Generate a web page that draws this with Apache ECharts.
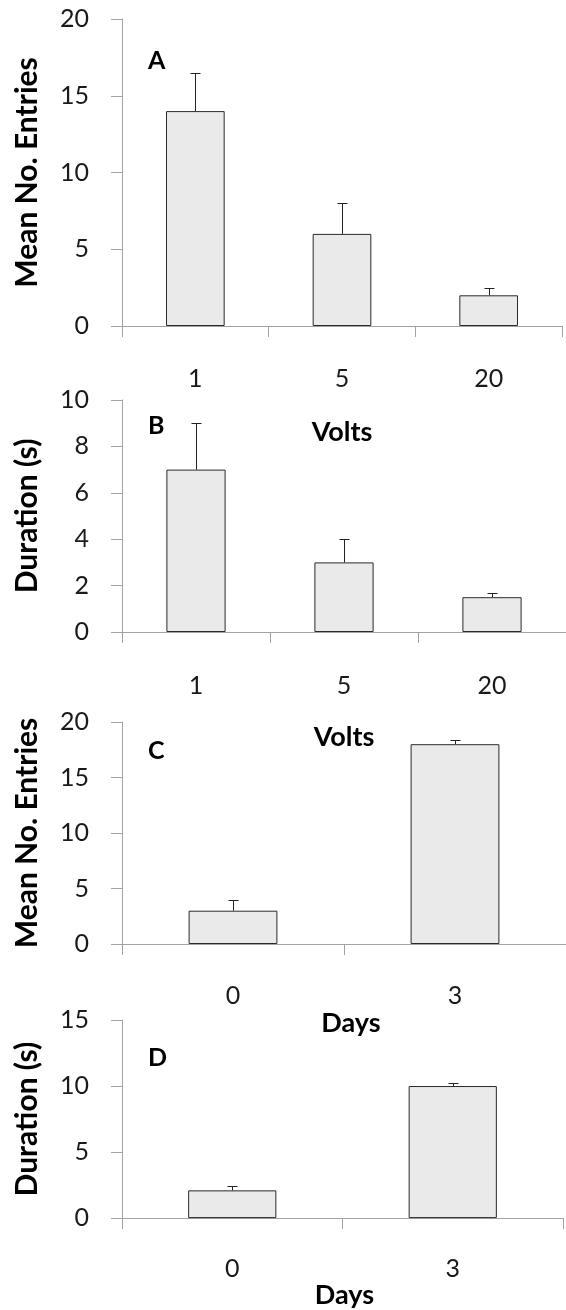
<!DOCTYPE html>
<html>
<head>
<meta charset="utf-8">
<script src="https://cdn.jsdelivr.net/npm/echarts@6/dist/echarts.min.js"></script>
<style>
html,body{margin:0;padding:0;background:#fff;}
#main{width:566px;height:1310px;}
</style>
</head>
<body>
<div id="main"></div>
<script>
// ---- data ----
const voltCategories = ['1', '5', '20'];
const dayCategories = ['0', '3'];
const entriesByVolts = [14, 6, 2];
const entriesByVoltsErr = [2.5, 2, 0.5];
const durationByVolts = [7, 3, 1.5];
const durationByVoltsErr = [2, 1, 0.2];
const entriesByDays = [3, 18];
const entriesByDaysErr = [1, 0.4];
const durationByDays = [2.1, 10];
const durationByDaysErr = [0.3, 0.2];
const panelLetters = ['A', 'B', 'C', 'D'];
const yNames = ['Mean No. Entries', 'Duration (s)', 'Mean No. Entries', 'Duration (s)'];
const xNames = ['Volts', 'Volts', 'Days', 'Days'];
const yMax = [20, 10, 20, 15];
const yInterval = [5, 2, 5, 5];

// ---- styling ----
const FONT = 'Lato, "Open Sans", sans-serif';
const AXIS_COLOR = '#a3a3a3';
const BAR_FILL = '#eaeaea';
const BAR_EDGE = '#2a2a2a';

const panels = [
  {cats: voltCategories, vals: entriesByVolts, errs: entriesByVoltsErr},
  {cats: voltCategories, vals: durationByVolts, errs: durationByVoltsErr},
  {cats: dayCategories, vals: entriesByDays, errs: entriesByDaysErr},
  {cats: dayCategories, vals: durationByDays, errs: durationByDaysErr}
];

const grids = [
  {left: 122, top: 19, width: 440, height: 307},
  {left: 122, top: 400, width: 452, height: 232},
  {left: 122, top: 722, width: 452, height: 222},
  {left: 122, top: 1020, width: 441, height: 206}
];
const xLabelMargin = [40, 41, 39, 38];
const xNameGap = [93, 92, 66, 53];
const xNamePad = [[0,0,0,0],[0,0,0,0],[0,0,0,14],[0,0,0,4]];
const letterY = [62, 427, 752, 1059];

function errItem(params, api) {
  const x = api.value(0), v = api.value(1), e = api.value(2);
  const p0 = api.coord([x, v]);
  const p1 = api.coord([x, v + e]);
  const cx = Math.round(p0[0]) + 0.5;
  const ty = Math.round(p1[1]) + 0.5;
  const st = {stroke: '#222', lineWidth: 1};
  return {
    type: 'group',
    children: [
      {type: 'line', shape: {x1: cx, y1: p0[1], x2: cx, y2: ty}, style: st},
      {type: 'line', shape: {x1: cx - 5, y1: ty, x2: cx + 5, y2: ty}, style: st}
    ]
  };
}

const xAxis = [], yAxis = [], series = [], graphic = [];
panels.forEach((p, i) => {
  xAxis.push({
    type: 'category', gridIndex: i, data: p.cats,
    boundaryGap: true,
    axisLine: {lineStyle: {color: AXIS_COLOR, width: 1}},
    axisTick: {show: true, length: 11, alignWithLabel: false, lineStyle: {color: AXIS_COLOR}},
    axisLabel: {margin: xLabelMargin[i], color: '#1a1a1a', fontFamily: FONT, fontSize: 25},
    name: xNames[i], nameLocation: 'middle', nameGap: xNameGap[i],
    nameTextStyle: {fontFamily: FONT, fontWeight: 'bold', fontSize: 27, color: '#000', padding: xNamePad[i]}
  });
  yAxis.push({
    type: 'value', gridIndex: i, min: 0, max: yMax[i], interval: yInterval[i],
    splitLine: {show: false},
    axisLine: {show: true, lineStyle: {color: AXIS_COLOR, width: 1}},
    axisTick: {show: true, length: 11, lineStyle: {color: AXIS_COLOR}},
    axisLabel: {margin: 33, color: '#1a1a1a', fontFamily: FONT, fontSize: 25},
    name: yNames[i], nameLocation: 'middle', nameRotate: 90, nameGap: 80,
    nameTextStyle: {fontFamily: FONT, fontWeight: 'bold', fontSize: 30, color: '#000'}
  });
  series.push({
    type: 'bar', xAxisIndex: i, yAxisIndex: i, data: p.vals,
    barWidth: '40%',
    itemStyle: {color: BAR_FILL, borderColor: BAR_EDGE, borderWidth: 1},
    silent: true, animation: false
  });
  series.push({
    type: 'custom', xAxisIndex: i, yAxisIndex: i,
    data: p.cats.map((c, j) => [j, p.vals[j], p.errs[j]]),
    encode: {x: 0, y: 1},
    renderItem: errItem, z: 5, silent: true, animation: false
  });
  graphic.push({
    type: 'text', left: 158 - 10, top: letterY[i] - 14,
    style: {text: panelLetters[i], fontFamily: FONT, fontWeight: 'bold', fontSize: 25, fill: '#000'}
  });
});

const chart = echarts.init(document.getElementById('main'), null, {renderer: 'canvas'});
chart.setOption({
  animation: false,
  backgroundColor: '#fff',
  grid: grids,
  xAxis: xAxis,
  yAxis: yAxis,
  series: series,
  graphic: graphic
});
</script>
</body>
</html>
